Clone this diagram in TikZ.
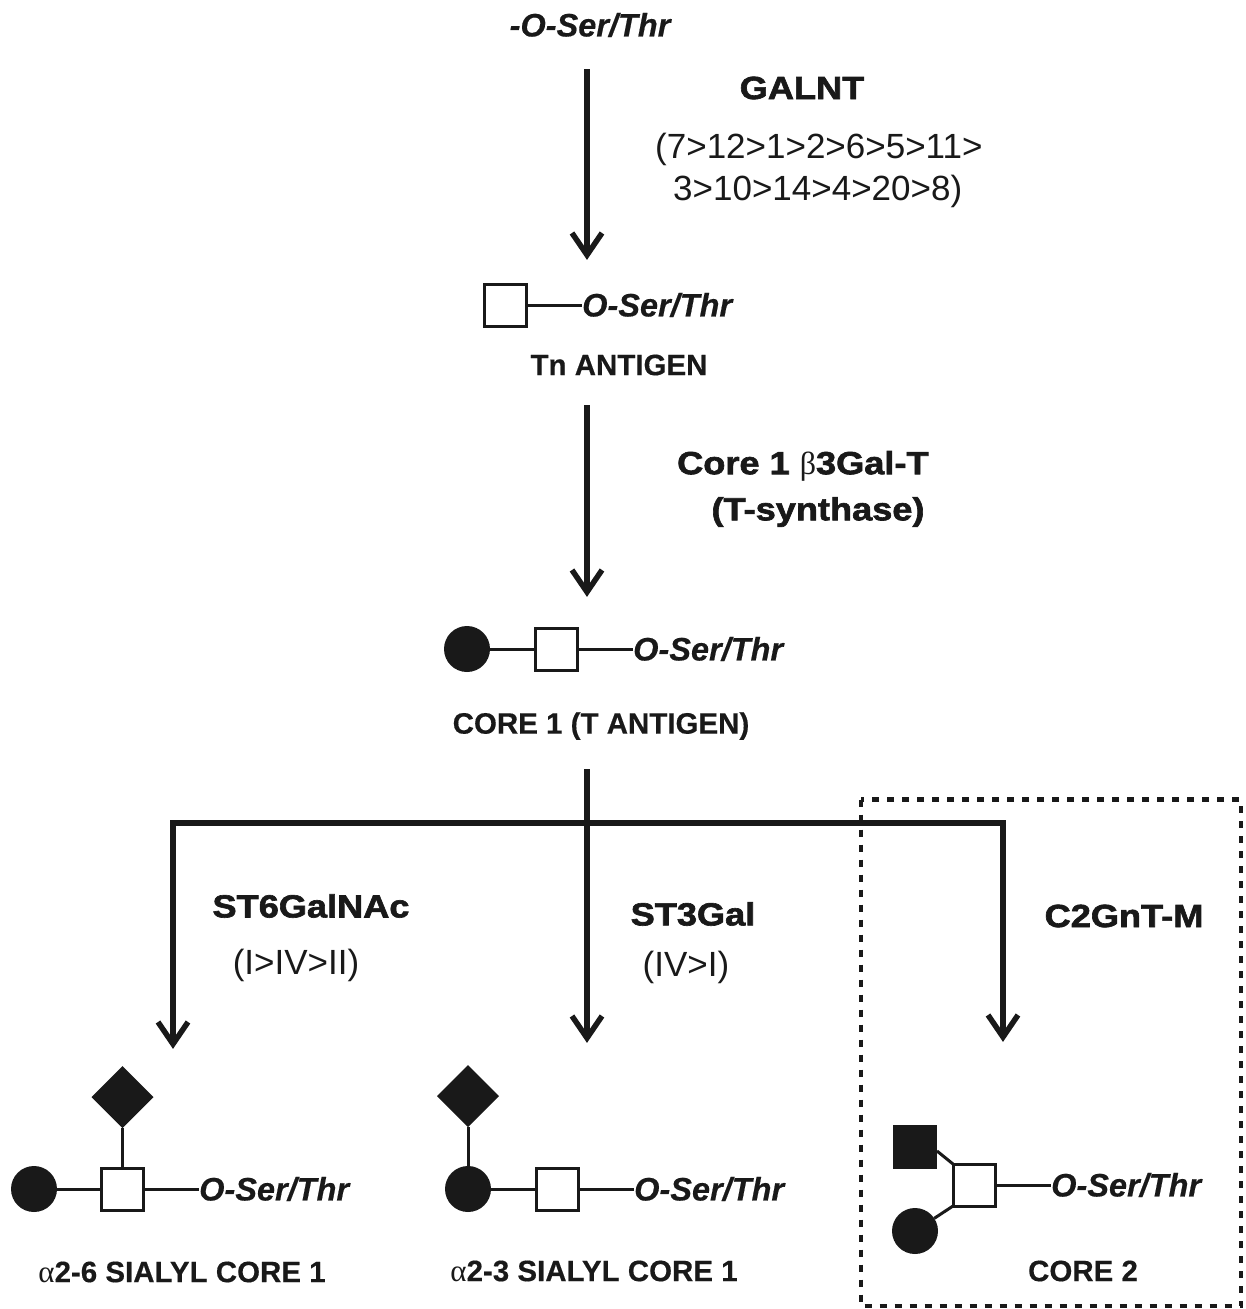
\documentclass[tikz,border=0pt]{standalone}
\usepackage{fontspec}
\setmainfont{Liberation Sans}
\newfontfamily\symf{Liberation Serif}
\newfontfamily\enzf[FakeStretch=1.13,FakeBold=2]{Liberation Sans Bold}
\newfontfamily\lblf[FakeBold=0.4]{Liberation Sans Bold}
\newfontfamily\serf[FakeBold=0.4]{Liberation Sans Bold Italic}
\usetikzlibrary{shapes.geometric}
\colorlet{ink}{black!90}
\tikzset{
 x=1pt,y=-1pt,
 flow/.style={line width=5.5pt,draw=ink,line join=miter},
 tipv/.style={line width=5.5pt,draw=ink,line cap=butt,line join=miter,miter limit=10},
 bond/.style={line width=3pt,draw=ink},
 glc/.style={draw=ink,line width=3pt,fill=white,minimum size=42pt,inner sep=0pt,outer sep=0pt,rectangle},
 fsq/.style={fill=ink,minimum size=44pt,inner sep=0pt,outer sep=0pt,rectangle},
 fci/.style={fill=ink,minimum size=46pt,inner sep=0pt,outer sep=0pt,circle},
 fdi/.style={fill=ink,minimum size=62pt,inner sep=0pt,outer sep=0pt,diamond,aspect=1},
 ser/.style={font=\serf\fontsize{32.5}{32.5}\selectfont,inner sep=0pt,text=ink,anchor=west},
 enz/.style={font=\enzf\fontsize{32}{38}\selectfont,inner sep=0pt,text=ink},
 lbl/.style={font=\lblf\fontsize{29.5}{34}\selectfont,inner sep=0pt,text=ink},
 num/.style={font=\fontsize{35}{42}\selectfont,inner sep=0pt,text=ink,align=left},
}
\newcommand{\arrowhead}[1]{\draw[tipv] ([shift={(-15,-22)}]#1) -- (#1) -- ([shift={(15,-22)}]#1);}
\begin{document}
\begin{tikzpicture}
\useasboundingbox (0,0) rectangle (1246,1309);
\node[ser,anchor=center] (top) at (590,25) {-O-Ser/Thr};
\coordinate (a1s) at (587,69); \coordinate (a1e) at (587,255);
\draw[flow] (a1s) -- (a1e); \arrowhead{a1e}
\node[enz] (galnt) at (802,88) {GALNT};
\node[num,anchor=north west] (nums) at (655,133) {(7>12>1>2>6>5>11>\\\hspace*{18pt}3>10>14>4>20>8)};
\node[glc] (tn) at (505,305) {};
\node[ser] (tns) at (582,305) {O-Ser/Thr};
\draw[bond] (tn) -- (tns);
\node[lbl] (tnl) at (619,365) {Tn ANTIGEN};
\coordinate (a2s) at (587,405); \coordinate (a2e) at (587,592);
\draw[flow] (a2s) -- (a2e); \arrowhead{a2e}
\node[enz,anchor=west] (core) at (677,466) {Core 1 {\symf\mdseries\fontsize{32}{38}\selectfont β}3Gal-T};
\node[enz] (tsyn) at (818,512) {(T-synthase)};
\node[fci] (c1) at (467,649) {};
\node[glc] (c1g) at (556,649) {};
\node[ser] (c1s) at (633,649) {O-Ser/Thr};
\draw[bond] (c1) -- (c1g); \draw[bond] (c1g) -- (c1s);
\node[lbl] (c1l) at (601,726) {CORE 1 (T ANTIGEN)};
\coordinate (a3s) at (587,769); \coordinate (a3e) at (587,1038);
\coordinate (la) at (173,823); \coordinate (lb) at (173,1044);
\coordinate (ra) at (1003,823); \coordinate (rb) at (1003,1037);
\draw[flow] (a3s) -- (a3e); \arrowhead{a3e}
\draw[flow] (lb) -- (la) -- (ra) -- (rb); \arrowhead{lb}\arrowhead{rb}
\node[enz] (st6) at (311,906) {ST6GalNAc};
\node[num] (st6n) at (296,965) {(I>IV>II)};
\node[enz] (st3) at (693,914) {ST3Gal};
\node[num] (st3n) at (686,967) {(IV>I)};
\node[enz] (c2g) at (1124,916) {C2GnT-M};
\node[fdi] (d6) at (122.5,1097) {};
\node[fci] (a6) at (34,1189) {};
\node[glc] (g6) at (122.5,1189) {};
\node[ser] (s6) at (199,1189) {O-Ser/Thr};
\draw[bond] (a6) -- (g6); \draw[bond] (g6) -- (s6); \draw[bond] (d6) -- (g6);
\node[lbl] (l6) at (182,1272) {{\symf\fontsize{31}{31}\selectfont\mdseries α}2-6 SIALYL CORE 1};
\node[fdi] (d3) at (468,1096) {};
\node[fci] (a3) at (468,1189) {};
\node[glc] (g3) at (557,1189) {};
\node[ser] (s3) at (634,1189) {O-Ser/Thr};
\draw[bond] (a3) -- (g3); \draw[bond] (g3) -- (s3); \draw[bond] (d3) -- (a3);
\node[lbl] (l3) at (594,1271) {{\symf\fontsize{31}{31}\selectfont\mdseries α}2-3 SIALYL CORE 1};
\node[fsq] (q2) at (915,1147) {};
\node[fci] (c2) at (915,1231) {};
\node[glc] (g2) at (974,1185) {};
\node[ser] (s2) at (1051,1185) {O-Ser/Thr};
\draw[bond] ([yshift=-4pt]q2.east) -- (g2.north west); \draw[bond] (c2) -- (g2.south west); \draw[bond] (g2) -- (s2);
\node[lbl] (l2) at (1083,1271) {CORE 2};
\draw[line width=4.5pt,draw=ink,dash pattern=on 7pt off 8pt] (861,799.5) rectangle (1241,1306);
\end{tikzpicture}
\end{document}
